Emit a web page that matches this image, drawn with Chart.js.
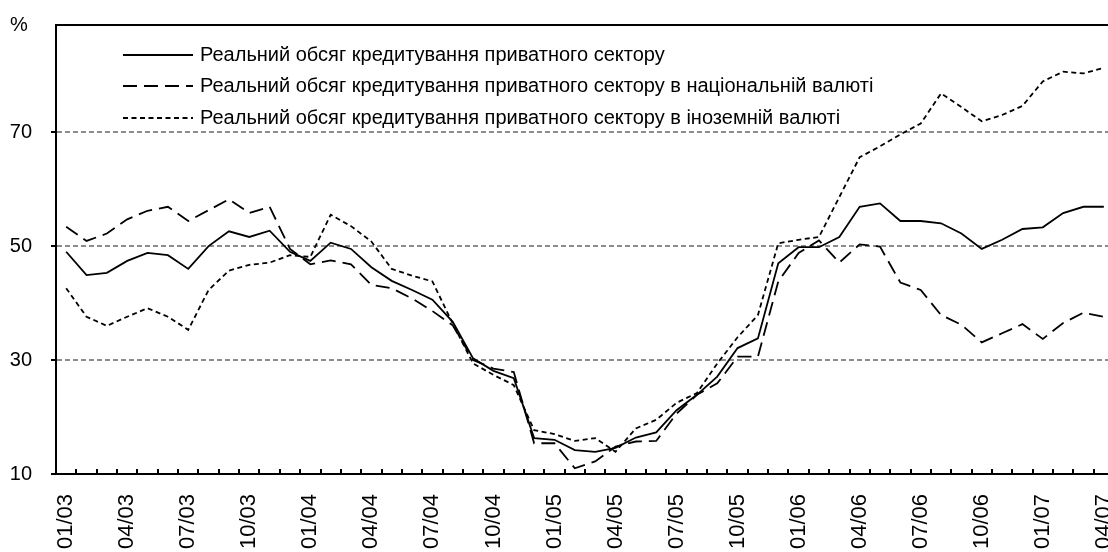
<!DOCTYPE html>
<html>
<head>
<meta charset="utf-8">
<script src="https://cdn.jsdelivr.net/npm/chart.js@4.4.1/dist/chart.umd.min.js"></script>
<style>
  html, body { margin: 0; padding: 0; background: #fff; overflow: hidden; }
  #wrap { position: relative; width: 1120px; height: 552px; }
</style>
</head>
<body>
<div id="wrap"><canvas id="credit"></canvas></div>
<script>
// місяці 01/03 .. 04/07
const months = [
    '01/03', '02/03', '03/03', '04/03', '05/03', '06/03', '07/03', '08/03', '09/03', '10/03', '11/03', '12/03',
    '01/04', '02/04', '03/04', '04/04', '05/04', '06/04', '07/04', '08/04', '09/04', '10/04', '11/04', '12/04',
    '01/05', '02/05', '03/05', '04/05', '05/05', '06/05', '07/05', '08/05', '09/05', '10/05', '11/05', '12/05',
    '01/06', '02/06', '03/06', '04/06', '05/06', '06/06', '07/06', '08/06', '09/06', '10/06', '11/06', '12/06',
    '01/07', '02/07', '03/07', '04/07'
];

const yTicks = [10, 30, 50, 70];

const totalCredit = [
    49.0, 44.9, 45.3, 47.4, 48.8, 48.4, 46.0, 50.0, 52.6, 51.6, 52.7, 49.0,
    47.4, 50.6, 49.5, 46.3, 43.9, 42.3, 40.6, 36.7, 30.3, 28.1, 26.8, 16.3,
    16.0, 14.2, 13.9, 14.6, 16.4, 17.3, 21.2, 23.9, 27.1, 32.1, 33.8, 47.0,
    49.8, 49.8, 51.6, 56.9, 57.5, 54.4, 54.4, 54.0, 52.2, 49.5, 51.1, 53.0,
    53.3, 55.8, 56.9, 56.9
];

const nationalCurrency = [
    53.4, 50.9, 52.2, 54.7, 56.2, 56.9, 54.4, 56.3, 58.2, 55.8, 56.9, 49.5,
    46.8, 47.5, 46.8, 43.2, 42.6, 40.8, 38.6, 36.1, 30.0, 28.5, 27.9, 15.4,
    15.4, 11.0, 12.2, 14.8, 15.7, 15.8, 20.6, 23.9, 25.9, 30.6, 30.6, 43.8,
    48.8, 51.0, 47.1, 50.3, 49.9, 43.6, 42.3, 37.9, 36.2, 33.1, 34.7, 36.3,
    33.7, 36.5, 38.3, 37.6
];

const foreignCurrency = [
    42.6, 37.6, 36.0, 37.6, 39.1, 37.6, 35.3, 42.3, 45.7, 46.7, 47.1, 48.4,
    48.1, 55.5, 53.5, 50.8, 46.0, 44.8, 43.8, 36.4, 29.4, 27.4, 25.6, 17.7,
    17.0, 15.8, 16.3, 13.9, 18.0, 19.5, 22.5, 24.2, 29.4, 34.0, 37.9, 50.5,
    51.1, 51.6, 58.6, 65.6, 67.5, 69.6, 71.5, 76.8, 74.4, 71.9, 73.0, 74.6,
    78.9, 80.6, 80.3, 81.3
];

const FONT = "'Liberation Sans', Arial, sans-serif";

// рамка зверху, внутрішні риски по осі X, "%" та легенда всередині поля
const framePlugin = {
    id: 'frame',
    afterDraw(chart) {
        const { ctx, chartArea: a, scales: { x } } = chart;
        ctx.save();
        ctx.strokeStyle = '#000';
        ctx.lineWidth = 2;
        ctx.setLineDash([]);
        ctx.beginPath();
        ctx.moveTo(a.left - 1, a.top);
        ctx.lineTo(a.right, a.top);
        const step = x.getPixelForValue(1) - x.getPixelForValue(0);
        for (let i = 0; i <= months.length; i++) {
            const px = Math.round(x.getPixelForValue(i) - step / 2);
            ctx.moveTo(px, a.bottom);
            ctx.lineTo(px, a.bottom - 5);
        }
        ctx.stroke();

        ctx.fillStyle = '#000';
        ctx.font = `20px ${FONT}`;
        ctx.textBaseline = 'middle';
        ctx.fillText('%', 10, 25);

        const rows = [55, 86, 118];
        chart.data.datasets.forEach((ds, i) => {
            ctx.beginPath();
            ctx.lineWidth = ds.borderWidth;
            ctx.setLineDash(ds.borderDash || []);
            ctx.moveTo(123, rows[i]);
            ctx.lineTo(193, rows[i]);
            ctx.stroke();
            ctx.setLineDash([]);
            ctx.fillText(ds.label, 200, rows[i]);
        });
        ctx.restore();
    }
};

new Chart(document.getElementById('credit'), {
    type: 'line',
    data: {
        labels: months,
        datasets: [
            {
                label: 'Реальний обсяг кредитування приватного сектору',
                data: totalCredit,
                borderColor: '#000',
                borderWidth: 1.8,
                borderDash: []
            },
            {
                label: 'Реальний обсяг кредитування приватного сектору в національній валюті',
                data: nationalCurrency,
                borderColor: '#000',
                borderWidth: 1.8,
                borderDash: [14, 7]
            },
            {
                label: 'Реальний обсяг кредитування приватного сектору в іноземній валюті',
                data: foreignCurrency,
                borderColor: '#000',
                borderWidth: 1.8,
                borderDash: [5, 3.5]
            }
        ]
    },
    options: {
        responsive: true,
        maintainAspectRatio: false,
        animation: false,
        layout: { padding: { top: 25, right: 6, left: 0, bottom: 0 } },
        elements: {
            point: { radius: 0 },
            line: { tension: 0 }
        },
        plugins: {
            legend: { display: false },
            tooltip: { enabled: false }
        },
        scales: {
            x: {
                offset: true,
                grid: { display: false },
                border: { display: true, color: '#000', width: 2 },
                ticks: {
                    autoSkip: false,
                    maxRotation: 90,
                    minRotation: 90,
                    padding: 12,
                    color: '#000',
                    font: { family: FONT, size: 22 },
                    callback: (v, i) => (i % 3 === 0 ? months[i] : '')
                },
                afterFit: s => {
                    s.height = 78;
                    s.paddingLeft = 0;
                    s.paddingRight = 0;
                }
            },
            y: {
                min: 10,
                max: 88.8,
                afterBuildTicks: s => { s.ticks = yTicks.map(v => ({ value: v })); },
                grid: {
                    color: c => (c.tick && c.tick.value === 10 ? 'rgba(0,0,0,0)' : '#8c8c8c'),
                    lineWidth: 2,
                    tickLength: 5,
                    tickColor: '#000',
                    tickWidth: 2
                },
                border: { display: true, color: '#000', width: 2, dash: [5, 3] },
                ticks: {
                    padding: 19,
                    color: '#000',
                    font: { family: FONT, size: 20 }
                },
                afterFit: s => {
                    s.width = 56;
                    s.paddingTop = 0;
                    s.paddingBottom = 0;
                }
            }
        }
    },
    plugins: [framePlugin]
});
</script>
</body>
</html>
